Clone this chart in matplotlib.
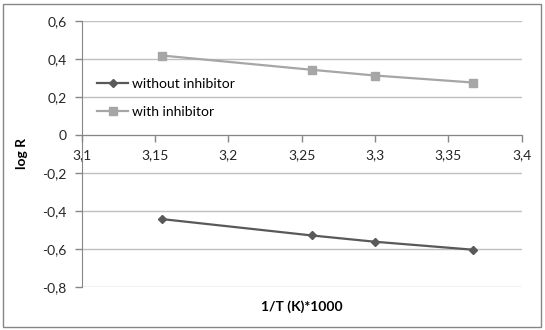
import matplotlib
matplotlib.use("Agg")
import matplotlib.pyplot as plt
from matplotlib.patches import Rectangle
from matplotlib.ticker import FuncFormatter, MultipleLocator

plt.rcParams["font.family"] = ["Lato", "DejaVu Sans"]

# data
inv_temp = [3.155, 3.257, 3.300, 3.367]
log_r_without = [-0.444, -0.530, -0.563, -0.605]
log_r_with = [0.417, 0.342, 0.312, 0.275]


def comma(v, pos):
    s = f"{v:.2f}".rstrip("0").rstrip(".")
    if s in ("-0", "0"):
        return "0"
    return s.replace(".", ",")


fig = plt.figure(figsize=(5.45, 3.3), dpi=100)
ax = fig.add_axes([0.150, 0.131, 0.807, 0.806])

ax.plot(inv_temp, log_r_without, color="#595959", lw=1.6, marker="D",
        ms=4.5, label="without inhibitor")
ax.plot(inv_temp, log_r_with, color="#A6A6A6", lw=1.6, marker="s",
        ms=6, label="with inhibitor")

ax.set_xlim(3.1, 3.4)
ax.set_ylim(-0.8, 0.6)
ax.xaxis.set_major_locator(MultipleLocator(0.05))
ax.yaxis.set_major_locator(MultipleLocator(0.2))
ax.xaxis.set_major_formatter(FuncFormatter(comma))
ax.yaxis.set_major_formatter(FuncFormatter(comma))

ax.grid(axis="y", color="#BFBFBF", lw=1)
ax.set_axisbelow(True)

for side in ("top", "right"):
    ax.spines[side].set_visible(False)
ax.spines["bottom"].set_position(("data", 0))
ax.spines["bottom"].set_color("#868686")
ax.spines["left"].set_color("#868686")
ax.tick_params(axis="both", colors="#868686", labelcolor="#262626",
               labelsize=10, length=5, width=1)
ax.tick_params(axis="x", pad=5)
ax.tick_params(axis="y", pad=6)

ax.set_ylabel("log R", fontsize=10, fontweight="bold", labelpad=10)
ax.set_xlabel("1/T (K)*1000", fontsize=10, fontweight="bold")
ax.xaxis.set_label_coords(0.5, -0.05)

ax.legend(loc="upper left", bbox_to_anchor=(0.02, 0.81), frameon=False,
          fontsize=10, handlelength=2.2, handletextpad=0.3,
          labelspacing=1.15, borderpad=0)

fig.patches.append(Rectangle((3 / 545, 3 / 330), 538 / 545, 323 / 330,
                             transform=fig.transFigure, fill=False,
                             edgecolor="#868686", lw=1))

fig.savefig("out.png", dpi=100)
